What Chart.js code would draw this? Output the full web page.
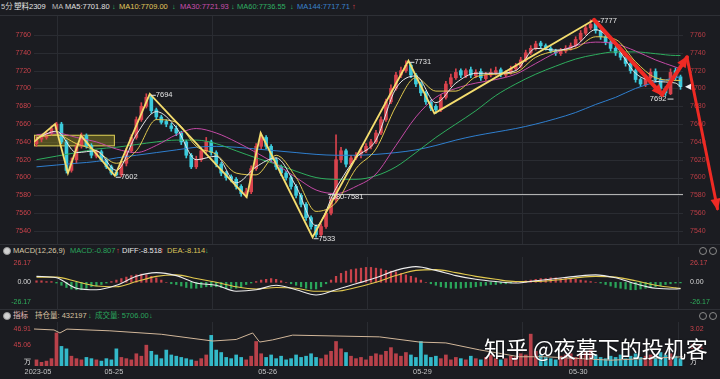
<!DOCTYPE html>
<html><head><meta charset="utf-8">
<script src="https://cdn.jsdelivr.net/npm/chart.js@4/dist/chart.umd.min.js"></script>
<style>
html,body{margin:0;padding:0;background:#1b1c21;width:720px;height:379px;overflow:hidden;position:relative;}
.t{position:absolute;white-space:nowrap;font-family:"Liberation Sans","Noto Sans CJK SC",sans-serif;font-size:7.5px;line-height:10px;}
canvas{position:absolute;left:0;}
.sep{position:absolute;left:0;width:720px;height:1px;background:#2e3036;}
.ico{position:absolute;width:6px;height:6px;border-radius:50%;background:#d0d0d0;border:1px solid #999;}
.ico2{position:absolute;width:6px;height:6px;border-radius:50%;border:1px solid #8a8a8a;}
.wm{position:absolute;left:484px;top:334px;font-family:"Noto Sans CJK SC",sans-serif;font-size:22px;line-height:26px;color:#fff;white-space:nowrap;text-shadow:0 0 2px rgba(0,0,0,.7);}
</style></head><body>
<div class="sep" style="top:15px"></div>
<div class="sep" style="top:244px"></div>
<div class="sep" style="top:309px"></div>

<span class="t" style="left:1px;top:2px;color:#cfcfcf">5分</span>
<span class="t" style="left:14px;top:2px;color:#e8e8e8">塑料2309</span>
<span class="t" style="left:52px;top:2px;color:#bdbdbd">MA</span>
<span class="t" style="left:65px;top:2px;color:#e0e0e0">MA5:7701.80</span>
<span class="t" style="left:112px;top:2px;color:#2bb866">↓</span>
<span class="t" style="left:119px;top:2px;color:#e0c95c">MA10:7709.00</span>
<span class="t" style="left:172px;top:2px;color:#2bb866">↓</span>
<span class="t" style="left:180px;top:2px;color:#c94fae">MA30:7721.93</span>
<span class="t" style="left:231px;top:2px;color:#2bb866">↓</span>
<span class="t" style="left:237px;top:2px;color:#2fae62">MA60:7736.55</span>
<span class="t" style="left:290px;top:2px;color:#2bb866">↓</span>
<span class="t" style="left:297px;top:2px;color:#3a82cc">MA144:7717.71</span>
<span class="t" style="left:352px;top:2px;color:#e0434a">↑</span>

<div class="ico" style="left:3px;top:247px"></div>
<span class="t" style="left:13px;top:246px;color:#d9c9a8">MACD(12,26,9)</span>
<span class="t" style="left:70px;top:246px;color:#2aa55c">MACD:-0.807</span>
<span class="t" style="left:116px;top:246px;color:#e0434a">↑</span>
<span class="t" style="left:122px;top:246px;color:#e6e6e6">DIFF:-8.518</span>
<span class="t" style="left:160px;top:246px;color:#e0434a">↑</span>
<span class="t" style="left:167px;top:246px;color:#dcc45a">DEA:-8.114</span>
<span class="t" style="left:205px;top:246px;color:#2aa55c">↓</span>
<div class="ico2" style="left:699px;top:247px"></div>
<div class="ico2" style="left:709px;top:247px"></div>

<div class="ico" style="left:3px;top:312px"></div>
<span class="t" style="left:13px;top:311px;color:#e6bcbc">指标</span>
<span class="t" style="left:35px;top:311px;color:#d8c2a0">持仓量: 432197</span>
<span class="t" style="left:88px;top:311px;color:#2aa55c">↓</span>
<span class="t" style="left:95px;top:311px;color:#2aa55c">成交量: 5706.00</span>
<span class="t" style="left:149px;top:311px;color:#2aa55c">↓</span>
<div class="ico2" style="left:699px;top:312px"></div>
<div class="ico2" style="left:709px;top:312px"></div>

<canvas id="cMain" width="720" height="228" style="top:16px"></canvas>
<canvas id="cMacd" width="720" height="53" style="top:257px"></canvas>
<canvas id="cVol" width="720" height="57" style="top:322px"></canvas>
<div class="wm">知乎 @夜幕下的投机客</div>

<script>
// ---------------- data ----------------
const opens = [
7638,7643,7645,7650,7654,7660,7640,7608,7620,7636,
7647,7636,7624,7629,7620,7612,7606,7603,7616,7630,
7645,7665,7680,7691,7676,7668,7663,7658,7655,7650,
7640,7625,7612,7620,7630,7640,7628,7615,7605,7601,
7598,7590,7580,7584,7610,7635,7645,7635,7620,7612,
7605,7600,7590,7580,7570,7555,7545,7536,7545,7560,
7575,7620,7630,7615,7622,7626,7630,7635,7640,7650,
7665,7685,7700,7715,7720,7726,7715,7705,7695,7685,
7680,7676,7690,7705,7712,7720,7714,7721,7714,7719,
7711,7715,7718,7721,7715,7718,7722,7725,7732,7740,
7745,7751,7748,7745,7742,7739,7742,7745,7748,7755,
7762,7768,7774,7765,7758,7752,7745,7740,7735,7728,
7720,7710,7704,7712,7719,7710,7700,7694,7720,7713];
const highs = [
7646,7648,7652,7658,7662,7662,7642,7622,7638,7650,
7649,7638,7631,7631,7622,7614,7608,7618,7633,7648,
7668,7684,7694,7692,7678,7670,7665,7661,7658,7652,
7642,7627,7624,7634,7645,7642,7630,7617,7607,7603,
7600,7592,7588,7613,7638,7650,7647,7637,7622,7614,
7607,7602,7592,7582,7572,7557,7547,7548,7563,7578,
7648,7634,7632,7625,7628,7633,7638,7643,7653,7668,
7688,7704,7718,7724,7731,7728,7717,7707,7697,7687,
7682,7693,7708,7716,7722,7722,7722,7724,7721,7722,
7718,7722,7724,7723,7720,7725,7728,7735,7743,7748,
7753,7753,7750,7747,7744,7745,7748,7751,7758,7765,
7771,7777,7776,7767,7760,7754,7747,7742,7737,7730,
7722,7712,7715,7722,7722,7712,7702,7722,7723,7715];
const lows = [
7635,7640,7643,7647,7652,7638,7605,7606,7616,7633,
7633,7622,7622,7618,7610,7603,7602,7601,7613,7628,
7643,7663,7678,7672,7665,7660,7657,7652,7647,7637,
7622,7610,7610,7618,7628,7625,7612,7602,7597,7595,
7587,7579,7578,7582,7608,7632,7632,7617,7609,7602,
7597,7587,7577,7567,7552,7542,7533,7534,7543,7558,
7572,7617,7612,7613,7620,7622,7628,7632,7638,7648,
7663,7683,7698,7712,7718,7712,7702,7692,7682,7675,
7672,7674,7688,7702,7710,7712,7712,7712,7712,7709,
7709,7713,7715,7713,7713,7716,7720,7723,7730,7738,
7743,7745,7743,7740,7737,7737,7740,7743,7746,7753,
7760,7766,7762,7755,7749,7742,7737,7732,7725,7717,
7707,7702,7702,7710,7707,7697,7692,7693,7709,7699];
const closes = [
7642,7645,7648,7655,7660,7640,7608,7618,7635,7647,
7635,7625,7628,7620,7612,7605,7603,7615,7630,7645,
7665,7680,7690,7675,7668,7662,7660,7655,7650,7640,
7625,7612,7620,7630,7640,7628,7615,7605,7600,7598,
7590,7582,7584,7610,7635,7645,7635,7620,7612,7605,
7600,7590,7580,7570,7555,7545,7536,7545,7560,7575,
7620,7630,7615,7622,7625,7630,7635,7640,7650,7665,
7685,7700,7715,7720,7726,7715,7705,7695,7685,7678,
7676,7690,7705,7712,7718,7715,7720,7715,7718,7712,
7715,7718,7720,7716,7718,7722,7725,7732,7740,7745,
7750,7748,7745,7742,7740,7742,7745,7748,7755,7762,
7768,7772,7765,7758,7752,7745,7740,7735,7728,7720,
7710,7705,7712,7718,7710,7700,7695,7718,7712,7702];
const volumes = [
0.5,0.3,0.4,0.6,2.7,1.6,1.4,0.8,0.6,0.5,
0.7,0.6,0.5,0.4,0.6,0.5,1.4,0.7,0.6,0.5,
1.0,0.8,1.7,1.2,0.9,0.6,1.3,0.9,0.8,0.7,
0.6,0.5,0.4,0.6,0.9,2.5,1.3,1.1,0.7,0.6,
0.9,0.7,0.5,0.8,2.0,1.0,0.7,0.9,0.6,0.8,
0.5,0.6,0.9,0.7,0.8,1.0,0.7,0.6,0.9,1.2,
2.0,1.4,1.1,0.8,0.6,0.7,0.5,0.8,1.0,0.9,
1.2,1.5,1.0,0.8,1.1,0.9,0.7,2.0,0.9,0.7,
0.8,0.6,0.9,0.5,0.7,0.6,0.5,0.8,0.6,0.5,
0.7,0.9,0.6,0.5,0.6,0.8,0.7,1.0,0.9,2.6,
1.2,0.9,0.7,0.6,0.5,0.8,0.9,1.0,0.7,0.9,
1.1,1.3,0.9,0.7,0.6,0.8,0.7,0.9,0.6,0.8,
1.0,0.7,0.8,0.9,0.7,1.1,0.9,1.0,0.8,0.6];
const macdHist = [
2,2,1,1,-1,-4,-7,-9,-10,-10,
-8,-6,-5,-3,-1,1,3,5,7,9,
10,11,10,8,6,3,0,-2,-3,-5,
-7,-8,-8,-7,-6,-6,-6,-7,-8,-8,
-8,-6,-3,-1,1,3,4,5,4,2,
0,-2,-4,-6,-8,-9,-9,-6,-2,3,
8,12,15,17,18,19,20,20,19,18,
16,15,14,12,10,8,6,3,0,-2,
-4,-6,-7,-8,-8,-8,-7,-7,-6,-5,
-4,-3,-3,-2,-2,-1,0,1,2,3,
4,5,5,6,6,5,5,4,4,3,
2,1,0,-1,-3,-5,-7,-8,-9,-10,
-10,-9,-8,-7,-6,-5,-3,-2,-1,-0.8];

const maIdx = [0,4,8,12,16,20,24,28,32,36,40,44,48,52,56,60,64,68,72,76,80,84,88,92,96,100,104,108,112,116,120,124,128,129];
const ma5   = [7644,7652,7628,7630,7608,7648,7674,7656,7620,7624,7594,7612,7622,7590,7546,7588,7622,7642,7700,7714,7684,7706,7717,7717,7720,7745,7743,7748,7766,7748,7717,7708,7706,7702];
const ma10  = [7645,7648,7638,7630,7616,7630,7665,7662,7635,7626,7605,7603,7625,7600,7562,7572,7610,7632,7680,7712,7697,7697,7713,7716,7718,7735,7742,7745,7758,7755,7730,7712,7709,7709];
const ma30  = [7648,7650,7645,7640,7632,7628,7636,7648,7655,7650,7640,7628,7615,7600,7586,7582,7590,7604,7636,7668,7690,7700,7706,7710,7716,7728,7740,7748,7752,7750,7742,7732,7724,7722];
const ma60  = [7620,7624,7628,7632,7634,7637,7640,7642,7642,7638,7630,7622,7615,7607,7600,7598,7598,7602,7612,7628,7645,7660,7675,7692,7705,7716,7725,7733,7738,7741,7741,7739,7737,7737];
const ma144 = [7612,7614,7616,7618,7622,7625,7628,7631,7634,7635,7634,7632,7630,7628,7626,7625,7625,7626,7628,7631,7636,7642,7647,7651,7655,7660,7666,7673,7682,7690,7700,7707,7712,7713];
const diffVals = [8,6,-8,-10,-4,8,13,9,-1,-4,-12,-10,-4,-10,-17,-10,-2,6,16,21,16,9,4,1,-1,2,5,8,10,6,-2,-8,-9,-8.5];
const deaVals  = [7,7,1,-5,-6,1,8,10,5,0,-6,-9,-7,-8,-12,-12,-7,0,9,16,17,13,8,4,1,1,3,6,8,7,2,-4,-7.5,-8.1];

const oiIdx  = [-0.5,3.5,4.7,6.1,14.7,25,35.3,40,43.3,44.7,47.3,51.3,60,68.7,76.7,82,88.7,96.7,102,115,129.5];
const oiVals = [46.91,46.8,46.45,46.9,46.7,46.3,45.52,45.7,46.45,45.4,45.65,46.2,46.1,46.0,45.4,45.3,44.5,43.7,43.7,43.3,43.7];

const zzIdx = [-0.5,3.7,6.3,8.9,15.7,22.7,42.1,44.9,55.3,74.5,79.7,111.7];
const zzVal = [7640,7660,7605,7647,7602,7694,7578,7650,7533,7731,7672,7777];
const redIdx = [111.7,125.3,130.3,136.4];
const redVal = [7777,7693,7735,7565];
const labelPivots = [4,5,8,9,11];
const lowLabel = {idx:127.6, val:7692, text:'7692'};
const rangeLabel = {idx:58.3, val:7578, text:'7580-7581'};
const supportIdx = [58.5,129.5], supportVal = 7581;
const boxIdx = [-0.5,15.7], boxVal = [7635,7648];

const priceTicks = [7760,7740,7720,7700,7680,7660,7640,7620,7600,7580,7560,7540];
const macdTicks = [26.17,0,-26.17];
const oiTicks = [46.91,45.06,43.095], oiTickText = ['46.91','45.06','万'];
const volTicks = [3.02,1.51,0.327], volTickText = ['3.02','1.51','万'];
const xLabelIdx = [0.3,15.5,46.3,77.3,108.5];
const xLabels = ['2023-05','05-25','05-26','05-29','05-30'];
const dayGridIdx = [4.1,35.2,66.3,97.3,128.4];

// ---------------- chart setup ----------------
Chart.defaults.font.family = '"Liberation Sans", Arial, sans-serif';
const FONT = '7px "Liberation Sans", Arial, sans-serif';
const upC = '#d8434d', dnC = '#3ccbdc';
const isUp = i => closes[i] >= opens[i];
const colorOf = ctx => isUp(ctx.dataIndex) ? upC : dnC;
const pts = (ix, vs) => ix.map((x, i) => ({x, y: vs[i]}));
const idx = closes.map((_, i) => i);
const xHidden = () => ({type:'linear', min:-0.5, max:129.5, offset:false, display:false, grid:{offset:false}});
const yHidden = (min, max, pos) => ({type:'linear', min, max, display:false, position:pos || 'left'});

// axis labels + horizontal gridlines drawn from the scales
function axisPlugin(defs){
  return {
    id:'axisLbl',
    beforeDatasetsDraw(chart){
      const {ctx, chartArea:a, scales:{x}} = chart;
      ctx.save(); ctx.strokeStyle = '#2a2c32'; ctx.lineWidth = 1;
      dayGridIdx.forEach(v => { const px = Math.round(x.getPixelForValue(v)) + 0.5;
        ctx.beginPath(); ctx.moveTo(px, a.top); ctx.lineTo(px, a.bottom); ctx.stroke(); });
      defs.forEach(d => { if (!d.grid) return; const s = chart.scales[d.scale];
        d.values.forEach(v => { const py = Math.round(s.getPixelForValue(v)) + 0.5;
          ctx.beginPath(); ctx.moveTo(a.left, py); ctx.lineTo(a.right, py); ctx.stroke(); }); });
      ctx.restore();
    },
    afterDraw(chart){
      const {ctx, chartArea:a} = chart;
      ctx.save(); ctx.font = FONT; ctx.textBaseline = 'middle';
      defs.forEach(d => { const s = chart.scales[d.scale];
        d.values.forEach((v, i) => { const py = s.getPixelForValue(v);
          ctx.fillStyle = d.color(v, i);
          if (d.side === 'left') { ctx.textAlign = 'right'; ctx.fillText(d.text(v, i), a.left - 3, py); }
          else { ctx.textAlign = 'left'; ctx.fillText(d.text(v, i), a.right + 7, py); } }); });
      ctx.restore();
    }
  };
}
function arrowHead(ctx, x0, y0, x1, y1, len, w){
  const a = Math.atan2(y1 - y0, x1 - x0), c = Math.cos(a), s = Math.sin(a);
  ctx.beginPath(); ctx.moveTo(x1 + c * 2, y1 + s * 2);
  ctx.lineTo(x1 - len * c + w * s, y1 - len * s - w * c);
  ctx.lineTo(x1 - len * c - w * s, y1 - len * s + w * c);
  ctx.closePath(); ctx.fill();
}
const mainOverlay = {
  id:'mainOverlay',
  beforeDatasetsDraw(chart){
    const {ctx, scales:{x, y}} = chart;
    const x0 = x.getPixelForValue(boxIdx[0]), x1 = x.getPixelForValue(boxIdx[1]);
    const y0 = y.getPixelForValue(boxVal[1]), y1 = y.getPixelForValue(boxVal[0]);
    ctx.save();
    ctx.fillStyle = 'rgba(150,140,30,0.45)'; ctx.fillRect(x0, y0, x1 - x0, y1 - y0);
    ctx.strokeStyle = 'rgba(226,212,90,0.95)'; ctx.lineWidth = 1;
    ctx.strokeRect(x0 + 0.5, y0 + 0.5, x1 - x0 - 1, y1 - y0 - 1);
    ctx.restore();
  },
  afterDraw(chart){
    const {ctx, scales:{x, y}, chartArea:a} = chart;
    const X = v => x.getPixelForValue(v), Y = v => y.getPixelForValue(v);
    ctx.save();
    ctx.font = '7.5px "Liberation Sans", Arial, sans-serif';
    ctx.fillStyle = '#e4e4e4'; ctx.strokeStyle = '#e4e4e4'; ctx.lineWidth = 1;
    ctx.textBaseline = 'middle'; ctx.textAlign = 'left';
    labelPivots.forEach(k => {
      const px = X(zzIdx[k]), py = Y(zzVal[k]) + 1;
      ctx.beginPath(); ctx.moveTo(px + 1, py + 0.5); ctx.lineTo(px + 6, py + 0.5); ctx.stroke();
      ctx.fillText(String(zzVal[k]), px + 6, py + 0.5);
    });
    ctx.fillText(rangeLabel.text, X(rangeLabel.idx), Y(rangeLabel.val));
    ctx.textAlign = 'right';
    const lx = X(lowLabel.idx), ly = Y(lowLabel.val) + 3;
    ctx.fillText(lowLabel.text, lx - 7, ly);
    ctx.beginPath(); ctx.moveTo(lx - 6, ly + 0.5); ctx.lineTo(lx, ly + 0.5); ctx.stroke();
    const my = Y(closes[closes.length - 1]);
    ctx.fillStyle = '#f0f0f0';
    ctx.beginPath(); ctx.moveTo(a.right + 2, my); ctx.lineTo(a.right + 8, my - 3); ctx.lineTo(a.right + 8, my + 3); ctx.closePath(); ctx.fill();
    ctx.strokeStyle = '#ee2a24'; ctx.fillStyle = '#ee2a24'; ctx.lineJoin = 'round'; ctx.lineCap = 'round';
    for (let k = 0; k < redIdx.length - 1; k++){
      const px0 = X(redIdx[k]), py0 = Y(redVal[k]), px1 = X(redIdx[k + 1]), py1 = Y(redVal[k + 1]);
      ctx.lineWidth = k === 2 ? 3 : 4;
      ctx.beginPath(); ctx.moveTo(px0, py0); ctx.lineTo(px1, py1); ctx.stroke();
      arrowHead(ctx, px0, py0, px1, py1, 10, 5);
    }
    ctx.restore();
  }
};
const common = {responsive:false, animation:false, events:[],
  layout:{padding:{left:34, right:37, top:0, bottom:0}, autoPadding:false},
  plugins:{legend:{display:false}, tooltip:{enabled:false}}};
const line = (data, color, w, order, extra) => Object.assign({type:'line', data, borderColor:color, borderWidth:w,
  pointRadius:0, order, cubicInterpolationMode:'monotone'}, extra || {});

const priceColL = () => '#c7424a', priceColR = () => '#b93d45';
new Chart(document.getElementById('cMain'), {
  type:'bar',
  data:{datasets:[
    line(pts(zzIdx, zzVal), '#f4dd6e', 1.8, 0, {cubicInterpolationMode:'default', tension:0}),
    line([{x:supportIdx[0], y:supportVal}, {x:supportIdx[1], y:supportVal}], '#b8b8b8', 1, 1),
    line(pts(maIdx, ma5), '#e8e8e8', 1, 2),
    line(pts(maIdx, ma10), '#e2c94e', 1, 3),
    line(pts(maIdx, ma30), '#c54aa6', 1, 4),
    line(pts(maIdx, ma60), '#2eae5e', 1, 5),
    line(pts(maIdx, ma144), '#2f7fcf', 1, 6),
    {type:'bar', data: idx.map(i => ({x:i, y:[opens[i], closes[i]]})), backgroundColor:colorOf,
      barThickness:3, grouped:false, minBarLength:1, order:8},
    {type:'bar', data: idx.map(i => ({x:i, y:[lows[i], highs[i]]})), backgroundColor:colorOf,
      barThickness:1, grouped:false, order:9}
  ]},
  options:Object.assign({}, common, {scales:{x:xHidden(), y:yHidden(7525.4, 7781.3)}}),
  plugins:[axisPlugin([
    {scale:'y', side:'left', values:priceTicks, text:v => String(v), color:priceColL, grid:true},
    {scale:'y', side:'right', values:priceTicks, text:v => String(v), color:priceColR, grid:false}
  ]), mainOverlay]
});

const macdColor = v => v === 0 ? '#d8d8d8' : (v > 0 ? '#c9444b' : '#2fae5b');
new Chart(document.getElementById('cMacd'), {
  type:'bar',
  data:{datasets:[
    line(pts(maIdx, diffVals), '#ececec', 1.1, 0),
    line(pts(maIdx, deaVals), '#e2c94e', 1.1, 1),
    {type:'bar', data: idx.map(i => ({x:i, y:macdHist[i]})),
      backgroundColor: ctx => macdHist[ctx.dataIndex] >= 0 ? '#c8424a' : '#2aa55a',
      barThickness:1.6, grouped:false, order:5}
  ]},
  options:Object.assign({}, common, {scales:{x:xHidden(), y:yHidden(-37.18, 33.96)}}),
  plugins:[axisPlugin([
    {scale:'y', side:'left', values:macdTicks, text:v => v.toFixed(2), color:macdColor, grid:false},
    {scale:'y', side:'right', values:macdTicks, text:v => v.toFixed(2), color:macdColor, grid:false}
  ])]
});

new Chart(document.getElementById('cVol'), {
  type:'bar',
  data:{datasets:[
    line(pts(oiIdx, oiVals), '#d2b79a', 1, 0, {yAxisID:'y', cubicInterpolationMode:'default', tension:0}),
    {type:'bar', yAxisID:'yv', data: idx.map(i => ({x:i, y:volumes[i]})),
      backgroundColor: ctx => isUp(ctx.dataIndex) ? '#b9414a' : '#33b9c9',
      barThickness:3, grouped:false, order:5}
  ]},
  options:Object.assign({}, common, {scales:{
    x:{type:'linear', min:-0.5, max:129.5, offset:false,
      afterFit(s){ s.height = 13; },
      afterBuildTicks(s){ s.ticks = xLabelIdx.map(v => ({value:v})); },
      grid:{display:false, drawTicks:false, offset:false}, border:{display:false},
      ticks:{autoSkip:false, maxRotation:0, color:'#c4c4c4', font:{size:7.3}, padding:2,
        callback:(v, i) => xLabels[i]}},
    y:yHidden(42.63, 47.72, 'left'),
    yv:yHidden(0, 3.591, 'right')
  }}),
  plugins:[axisPlugin([
    {scale:'y', side:'left', values:oiTicks, text:(v, i) => oiTickText[i], color:(v, i) => i === 2 ? '#e8e8e8' : '#c7424a', grid:false},
    {scale:'yv', side:'right', values:volTicks, text:(v, i) => volTickText[i], color:(v, i) => i === 2 ? '#e8e8e8' : '#c7424a', grid:false}
  ])]
});
</script>
</body></html>
